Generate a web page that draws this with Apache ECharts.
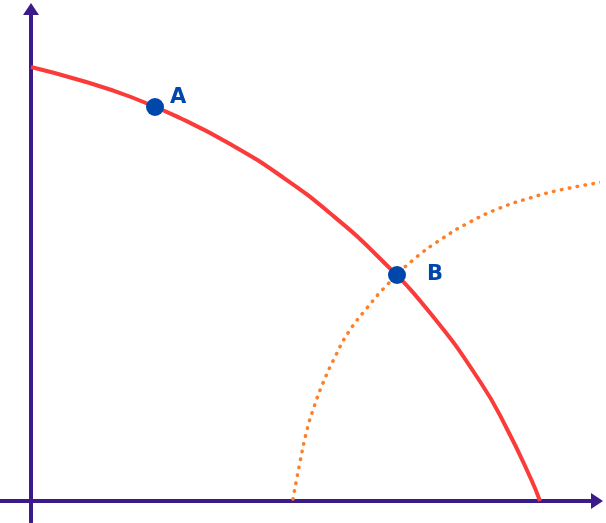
<!DOCTYPE html>
<html>
<head>
<meta charset="utf-8">
<title>PPF</title>
<script src="https://cdn.jsdelivr.net/npm/echarts@6/dist/echarts.min.js"></script>
<style>
  html, body { margin: 0; padding: 0; background: #fff; }
  #main { width: 606px; height: 523px; }
</style>
</head>
<body>
<div id="main"></div>
<script type="text/javascript">
  // 红色曲线（原始生产可能性边界）
  var redCurve = [
    [0, 434], [50, 420.5], [100, 404], [150, 382.5], [200, 356.5], [250, 325],
    [300, 287], [350, 241.5], [400, 187], [450, 118], [475, 74], [500, 22], [509, 0]
  ];
  // 橙色点线
  var orangeCurve = [
    [262, 2], [269, 39], [276, 71], [283, 94], [292, 118], [304, 144],
    [317, 168], [336, 193], [356, 216], [382, 241], [412, 263], [439, 279],
    [469, 293], [499, 303], [529, 311], [572, 319]
  ];
  // 标记点
  var pointNames = ['A', 'B'];
  var pointValues = [[124, 394], [366, 226]];

  var axisColor = '#3b1a8a';
  var blue = '#0047ab';

  var myChart = echarts.init(document.getElementById('main'));

  var pts = [];
  for (var i = 0; i < pointNames.length; i++) {
    pts.push({ name: pointNames[i], value: pointValues[i] });
  }

  var option = {
    animation: false,
    grid: { left: 0, right: 9, top: 9, bottom: 1 },
    xAxis: {
      type: 'value', min: -31, max: 566,
      splitLine: { show: false }, axisTick: { show: false }, axisLabel: { show: false },
      axisLine: {
        onZero: true,
        symbol: ['none', 'triangle'], symbolSize: [16, 12],
        lineStyle: { color: axisColor, width: 4 }
      }
    },
    yAxis: {
      type: 'value', min: -21, max: 492,
      splitLine: { show: false }, axisTick: { show: false }, axisLabel: { show: false },
      axisLine: {
        onZero: true,
        symbol: ['none', 'triangle'], symbolSize: [16, 12],
        lineStyle: { color: axisColor, width: 4 }
      }
    },
    series: [
      {
        type: 'line',
        data: orangeCurve,
        smooth: true,
        showSymbol: false,
        clip: false,
        z: 2,
        lineStyle: { color: '#ff7f27', width: 3.5, type: [0.5, 7.5], cap: 'round' }
      },
      {
        type: 'line',
        data: redCurve,
        smooth: true,
        showSymbol: false,
        z: 3,
        lineStyle: { color: '#fb3a3a', width: 4 }
      },
      {
        type: 'scatter',
        data: pts,
        symbolSize: 18,
        z: 5,
        itemStyle: { color: blue, opacity: 1 },
        label: {
          show: true,
          formatter: '{b}',
          position: 'right',
          distance: 6,
          color: blue,
          fontSize: 21,
          fontWeight: 'bold',
          fontFamily: 'DejaVu Sans'
        },
        labelLayout: function (params) {
          if (params.dataIndex === 0) {
            return { dy: -9 };
          }
          return { dx: 15 };
        }
      }
    ]
  };
  myChart.setOption(option);
</script>
</body>
</html>
